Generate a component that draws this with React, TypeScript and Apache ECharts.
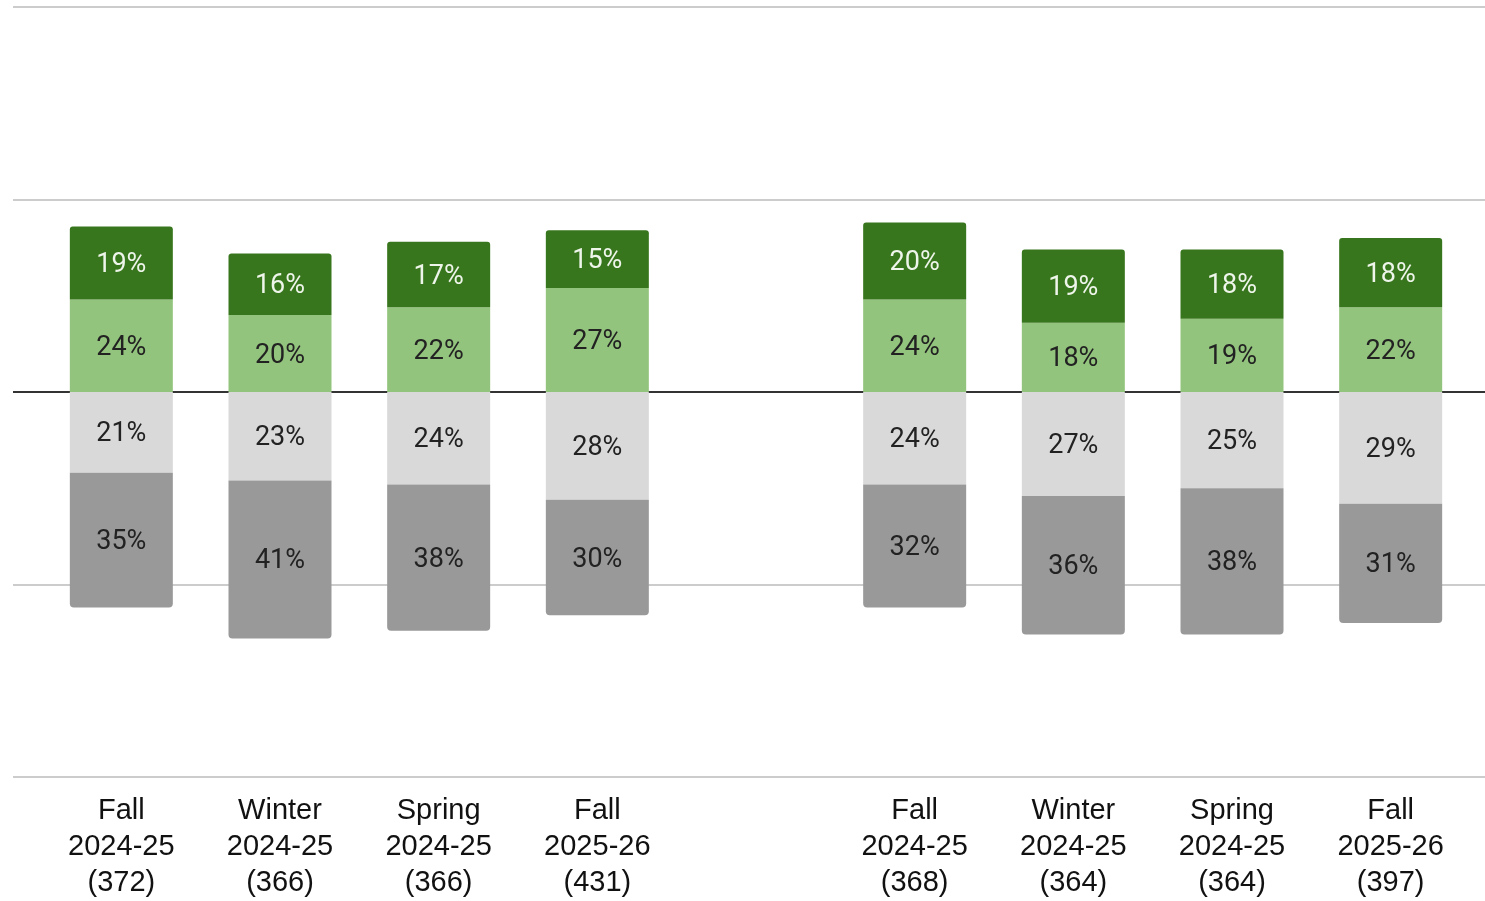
import React, { useEffect, useRef } from "react";
import * as echarts from "echarts";

const categories = [
  "Fall\n2024-25\n(372)",
  "Winter\n2024-25\n(366)",
  "Spring\n2024-25\n(366)",
  "Fall\n2025-26\n(431)",
  "",
  "Fall\n2024-25\n(368)",
  "Winter\n2024-25\n(364)",
  "Spring\n2024-25\n(364)",
  "Fall\n2025-26\n(397)",
];

const darkGreen = [19, 16, 17, 15, null, 20, 19, 18, 18];
const lightGreen = [24, 20, 22, 27, null, 24, 18, 19, 22];
const lightGray = [-21, -23, -24, -28, null, -24, -27, -25, -29];
const darkGray = [-35, -41, -38, -30, null, -32, -36, -38, -31];

const yTicks = [-100, -50, 0, 50, 100];

export default function App() {
  const ref = useRef<HTMLDivElement>(null);
  useEffect(() => {
    const chart = echarts.init(ref.current!, null, { renderer: "svg" });
    const labelBase = {
      show: true,
      position: "inside",
      fontFamily: "Roboto",
      fontSize: 27,
      color: "#222222",
      formatter: (p: any) => (p.value == null ? "" : Math.abs(p.value) + "%"),
    };
    chart.setOption({
      animation: false,
      grid: [
        { left: 13, right: 0, top: 7, bottom: 124 },
        { left: 42, right: 15, top: 7, bottom: 124 },
      ],
      xAxis: [
        { type: "category", gridIndex: 0, data: [""], show: false },
        {
          type: "category",
          gridIndex: 1,
          data: categories,
          axisLine: { show: false },
          axisTick: { show: false },
          axisLabel: {
            fontFamily: "Liberation Sans, Arial",
            fontSize: 29,
            lineHeight: 36,
            color: "#111111",
            margin: 14,
            interval: 0,
          },
        },
      ],
      yAxis: [
        {
          type: "value",
          gridIndex: 0,
          min: yTicks[0],
          max: yTicks[yTicks.length - 1],
          interval: 50,
          axisLabel: { show: false },
          axisLine: { show: false },
          axisTick: { show: false },
          splitLine: {
            show: true,
            showMinLine: true,
            showMaxLine: true,
            lineStyle: {
              color: ["#cccccc", "#cccccc", "#333333", "#cccccc", "#cccccc"],
              width: 2,
            },
          },
        },
        {
          type: "value",
          gridIndex: 1,
          min: yTicks[0],
          max: yTicks[yTicks.length - 1],
          interval: 50,
          show: false,
          splitLine: { show: false },
        },
      ],
      series: [
        {
          type: "bar",
          name: "Light green",
          xAxisIndex: 1,
          yAxisIndex: 1,
          stack: "total",
          barWidth: 103,
          data: lightGreen,
          itemStyle: { color: "#93c47d" },
          label: labelBase,
        },
        {
          type: "bar",
          name: "Dark green",
          xAxisIndex: 1,
          yAxisIndex: 1,
          stack: "total",
          barWidth: 103,
          data: darkGreen,
          itemStyle: { color: "#38761d", borderRadius: [3, 3, 0, 0] },
          label: { ...labelBase, color: "#eef5ea" },
        },
        {
          type: "bar",
          name: "Light gray",
          xAxisIndex: 1,
          yAxisIndex: 1,
          stack: "total",
          barWidth: 103,
          data: lightGray,
          itemStyle: { color: "#d9d9d9" },
          label: labelBase,
        },
        {
          type: "bar",
          name: "Dark gray",
          xAxisIndex: 1,
          yAxisIndex: 1,
          stack: "total",
          barWidth: 103,
          data: darkGray,
          itemStyle: { color: "#999999", borderRadius: [0, 0, 4, 4] },
          label: labelBase,
        },
      ],
    });
    return () => chart.dispose();
  }, []);
  return (
    <div
      ref={ref}
      style={{ position: "fixed", left: 0, top: 0, width: 1485, height: 901 }}
    />
  );
}
